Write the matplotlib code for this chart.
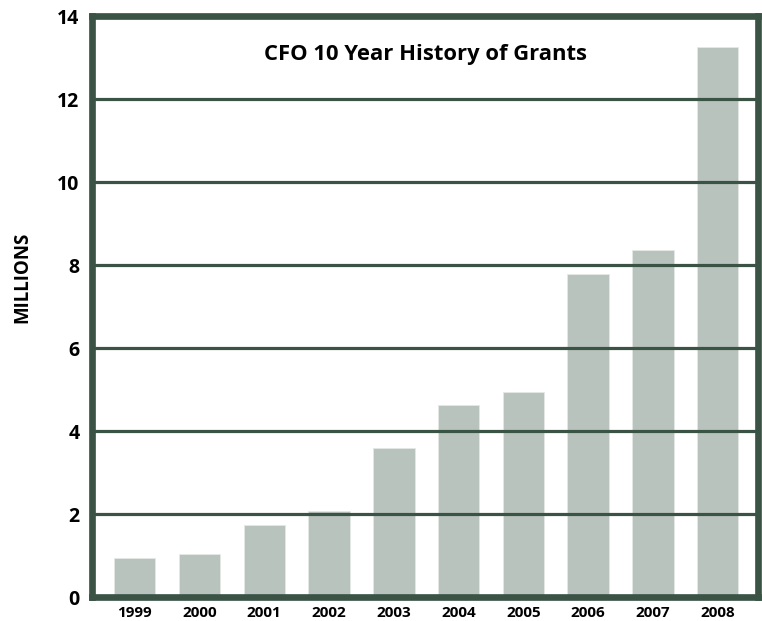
import numpy as np
from matplotlib import pyplot as plt

years = ["1999", "2000", "2001", "2002", "2003", "2004", "2005", "2006", "2007", "2008"]
grants = [0.95, 1.04, 1.73, 2.08, 3.60, 4.63, 4.95, 7.78, 8.35, 13.25]
y_ticks = [0, 2, 4, 6, 8, 10, 12, 14]

FRAME = "#3a5345"
BAR = "#b9c3bd"

plt.rcParams["font.family"] = ["Open Sans", "DejaVu Sans"]
plt.rcParams["font.weight"] = "bold"


def main() -> None:
    fig = plt.figure(figsize=(7.62, 6.21), dpi=100)
    ax = fig.add_axes([0.1207, 0.0386, 0.8747, 0.9356])

    x = np.arange(len(years))
    ax.bar(x, grants, width=0.64, color=BAR, edgecolor="#e4e9e6", linewidth=0.6, zorder=1)

    # линии сетки поверх столбцов
    for t in y_ticks[1:-1]:
        ax.axhline(t, color=FRAME, linewidth=2.3, zorder=3)

    ax.set_xlim(-0.66, 9.63)
    ax.set_ylim(0, 14)
    ax.set_yticks(y_ticks)
    ax.set_yticklabels([str(t) for t in y_ticks], fontsize=14, fontweight="bold")
    ax.set_xticks(x)
    ax.set_xticklabels(years, fontsize=11, fontweight="bold")
    ax.tick_params(axis="both", length=0)
    ax.tick_params(axis="y", pad=9)
    ax.tick_params(axis="x", pad=6.5)

    for s in ax.spines.values():
        s.set_color(FRAME)
        s.set_linewidth(4.8)
        s.set_zorder(4)

    # подпись оси -- чуть выше центра, как в оригинале
    fig.text(22.5 / 762, 1 - 277 / 621, "MILLIONS", rotation=90, ha="center", va="center",
             fontsize=13.5, fontweight="bold")
    ax.text(0.5, 0.933, "CFO 10 Year History of Grants", transform=ax.transAxes,
            ha="center", va="center", fontsize=15.8, fontweight="bold")

    fig.savefig("out.png", dpi=100)


if __name__ == '__main__':
    main()
